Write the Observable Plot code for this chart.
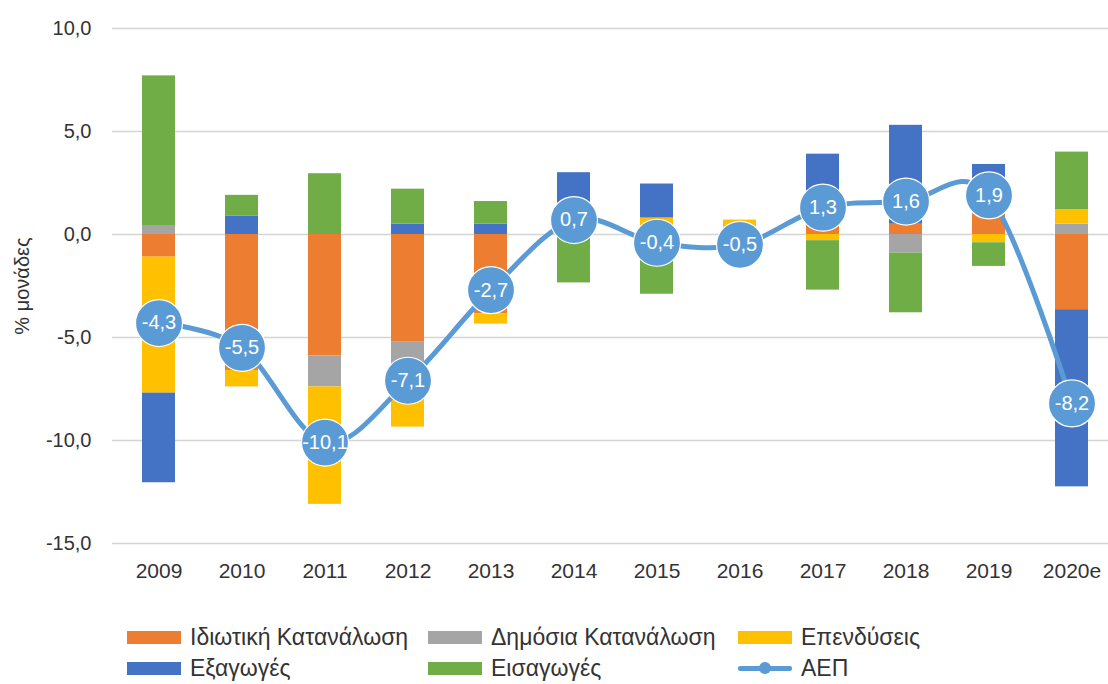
<!DOCTYPE html>
<html>
<head>
<meta charset="utf-8">
<script src="https://cdn.jsdelivr.net/npm/d3@7"></script>
<script src="https://cdn.jsdelivr.net/npm/@observablehq/plot@0.6"></script>
<style>
  html, body { margin: 0; padding: 0; background: #fff; overflow: hidden; }
  body { width: 1108px; height: 684px; font-family: "Liberation Sans", Arial, sans-serif; color: #333; }
  #chart { position: absolute; left: 0; top: 0; }
  .legend { position: absolute; left: 0; top: 0; width: 1108px; height: 684px; pointer-events: none; }
  .item { position: absolute; display: flex; align-items: center; font-size: 23px; line-height: 26px; color: #333; white-space: nowrap; }
  .sw { width: 54px; height: 13px; margin-right: 9px; }
  .ln { width: 54px; height: 14px; margin-right: 9px; position: relative; }
  .ln::before { content: ""; position: absolute; left: 0; right: 0; top: 5px; height: 5px; background: #5B9BD5; border-radius: 2px; }
  .ln::after { content: ""; position: absolute; left: 21px; top: 1px; width: 12px; height: 12px; background: #5B9BD5; border-radius: 50%; }
</style>
</head>
<body>
<div id="chart"></div>
<div class="legend" id="legend"></div>
<script>
// ---- data ----
const years = ["2009","2010","2011","2012","2013","2014","2015","2016","2017","2018","2019","2020e"];
const privateConsumption = [-1.1, -6.6, -5.9, -5.2, -3.85, 0, 0, 0, 0.5, 0.5, 1.0, -3.65];
const publicConsumption  = [0.4, 0, -1.5, -1.2, 0, 0, 0, 0, 0, -0.9, 0, 0.5];
const investment         = [-6.6, -0.8, -5.7, -2.95, -0.5, 0, 0.8, 0.7, -0.3, 0, -0.4, 0.7];
const exportsV           = [-4.35, 0.9, 0, 0.5, 0.5, 3.0, 1.65, 0, 3.4, 4.8, 2.4, -8.6];
const importsV           = [7.3, 1.0, 2.95, 1.7, 1.1, -2.35, -2.9, -1.2, -2.4, -2.9, -1.15, 2.8];
const gdp                = [-4.3, -5.5, -10.1, -7.1, -2.7, 0.7, -0.4, -0.5, 1.3, 1.6, 1.9, -8.2];
const seriesNames = ["Ιδιωτική Κατανάλωση", "Δημόσια Κατανάλωση", "Επενδύσεις", "Εξαγωγές", "Εισαγωγές"];
const seriesColors = ["#ED7D31", "#A5A5A5", "#FFC000", "#4472C4", "#70AD47"];
const lineName = "ΑΕΠ";
const lineColor = "#5B9BD5";
const yTicks = [-15, -10, -5, 0, 5, 10];

// ---- build tables ----
const seriesValues = [privateConsumption, publicConsumption, investment, exportsV, importsV];
const bars = [];
seriesNames.forEach((name, s) => {
  years.forEach((yr, i) => bars.push({year: yr, series: name, value: seriesValues[s][i]}));
});
const line = years.map((yr, i) => ({year: yr, value: gdp[i]}));
const fmt = v => v.toFixed(1).replace(".", ",");

const chart = Plot.plot({
  width: 1108,
  height: 595,
  marginLeft: 112,
  marginRight: 0,
  marginTop: 28,
  marginBottom: 52,
  style: {fontFamily: "'Liberation Sans', Arial, sans-serif", fontSize: "20px", color: "#333", background: "transparent", overflow: "visible"},
  x: {domain: years, range: [115, 1115], paddingInner: 0.6, paddingOuter: 0.275},
  y: {domain: [-15, 10]},
  color: {domain: seriesNames, range: seriesColors},
  marks: [
    Plot.ruleY(yTicks, {stroke: "#d4d4d4", strokeWidth: 1.5}),
    Plot.axisY({ticks: yTicks, tickSize: 0, tickPadding: 21, tickFormat: fmt, fontSize: 20,
      label: "% μονάδες", labelAnchor: "center", labelOffset: 98, labelArrow: "none"}),
    Plot.axisX({tickSize: 0, tickPadding: 20, fontSize: 21, label: null}),
    Plot.barY(bars, Plot.stackY({x: "year", y: "value", fill: "series", order: seriesNames})),
    Plot.line(line, {x: "year", y: "value", stroke: lineColor, strokeWidth: 5, curve: "cardinal", tension: 0}),
    Plot.dot(line, {x: "year", y: "value", r: 23.5, fill: lineColor, stroke: "#ffffff", strokeWidth: 1.2}),
    Plot.text(line, {x: "year", y: "value", text: d => fmt(d.value), fill: "white", fontSize: 20})
  ]
});
document.getElementById("chart").appendChild(chart);

// ---- legend ----
const legend = document.getElementById("legend");
const legendItems = [
  {name: seriesNames[0], color: seriesColors[0], col: 0, row: 0},
  {name: seriesNames[1], color: seriesColors[1], col: 1, row: 0},
  {name: seriesNames[2], color: seriesColors[2], col: 2, row: 0},
  {name: seriesNames[3], color: seriesColors[3], col: 0, row: 1},
  {name: seriesNames[4], color: seriesColors[4], col: 1, row: 1},
  {name: lineName, color: lineColor, col: 2, row: 1, isLine: true}
];
const colX = [127, 428, 738];
const rowY = [624, 655];
legendItems.forEach(it => {
  const d = document.createElement("div");
  d.className = "item";
  d.style.left = colX[it.col] + "px";
  d.style.top = rowY[it.row] + "px";
  const sw = document.createElement("span");
  if (it.isLine) { sw.className = "ln"; } else { sw.className = "sw"; sw.style.background = it.color; }
  d.appendChild(sw);
  const t = document.createElement("span");
  t.textContent = it.name;
  d.appendChild(t);
  legend.appendChild(d);
});
</script>
</body>
</html>
